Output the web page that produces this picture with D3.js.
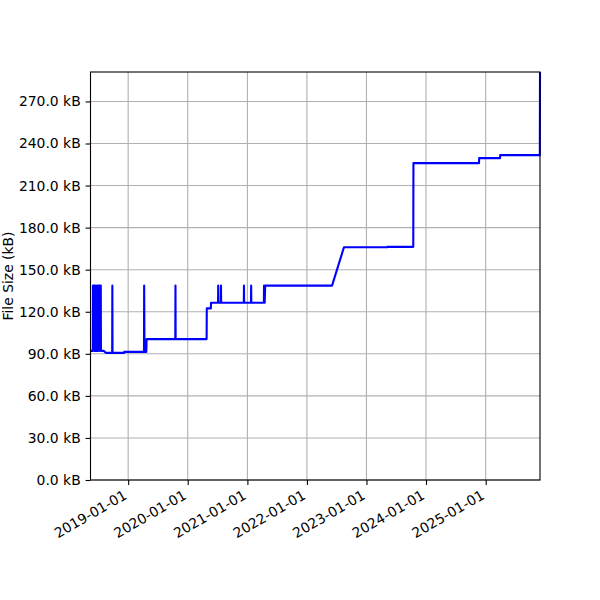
<!DOCTYPE html>
<html>
<head>
<meta charset="utf-8">
<script src="https://cdn.jsdelivr.net/npm/d3@7"></script>
<style>
  body { margin: 0; background: #fff; }
  text { font-family: "DejaVu Sans", sans-serif; }
</style>
</head>
<body>
<div id="svg"></div>
<script>
// dates of each recorded size
let dates = [
  '2018-05-15', '2018-05-29', '2018-05-30', '2018-06-05', '2018-06-06',
  '2018-06-08', '2018-06-14', '2018-06-16', '2018-06-22', '2018-06-24',
  '2018-06-30', '2018-07-02', '2018-07-08', '2018-07-09', '2018-07-12',
  '2018-07-17', '2018-07-18', '2018-08-05', '2018-08-16', '2018-09-25',
  '2018-09-26', '2018-09-27', '2018-12-07', '2018-12-08', '2019-04-08',
  '2019-04-09', '2019-04-11', '2019-04-22', '2019-04-24', '2019-10-17',
  '2019-10-18', '2019-10-19', '2020-04-26', '2020-04-27', '2020-05-22',
  '2020-05-23', '2020-07-05', '2020-07-06', '2020-07-07', '2020-07-22',
  '2020-07-23', '2020-07-24', '2020-12-10', '2020-12-11', '2020-12-12',
  '2021-01-23', '2021-01-24', '2021-01-25', '2021-04-12', '2021-04-13',
  '2021-04-17', '2021-04-20', '2022-06-04', '2022-08-16', '2023-05-07',
  '2023-05-08', '2023-10-15', '2023-10-16', '2024-11-21', '2024-11-22',
  '2025-03-30', '2025-03-31', '2025-11-29', '2025-11-30'
];
// file size in kB
let sizes = [
  92.1, 92.1, 138.6, 138.6, 92.1,
  138.6, 92.1, 138.6, 92.1, 138.6,
  92.1, 138.6, 138.6, 92.1, 138.6,
  138.6, 92.1, 92.1, 90.7, 90.7,
  138.6, 90.7, 90.7, 91.4, 91.4,
  138.6, 91.4, 91.4, 100.5, 100.5,
  138.6, 100.5, 100.5, 122.4, 122.4,
  126.4, 126.4, 138.6, 126.4, 126.4,
  138.6, 126.4, 126.4, 138.6, 126.4,
  126.4, 138.6, 126.4, 126.4, 138.6,
  126.4, 138.6, 138.6, 166.0, 166.0,
  166.3, 166.3, 226.0, 226.0, 229.6,
  229.6, 231.7, 231.7, 291.0
];
let yTicks = [0, 30, 60, 90, 120, 150, 180, 210, 240, 270];
let xTicks = ['2019-01-01', '2020-01-01', '2021-01-01', '2022-01-01',
              '2023-01-01', '2024-01-01', '2025-01-01'];

let w = 600;
let h = 600;
let mLeft = 90.5, mRight = 540, mTop = 72, mBottom = 480;

let parse = d3.timeParse('%Y-%m-%d');
let data = dates.map((d, i) => ({date: parse(d), size: sizes[i]}));

let svg = d3.select('#svg')
          .append('svg')
          .attr('width', w)
          .attr('height', h);

let xScale = d3.scaleTime()
  .domain(d3.extent(data, d => d.date))
  .range([mLeft, mRight]);

let yScale = d3.scaleLinear()
  .domain([0, d3.max(sizes)])
  .range([mBottom, mTop]);

// grid
svg.append('g')
   .selectAll('line')
   .data(xTicks)
   .enter()
   .append('line')
   .attr('x1', d => xScale(parse(d)))
   .attr('x2', d => xScale(parse(d)))
   .attr('y1', mTop)
   .attr('y2', mBottom)
   .style('stroke', '#b0b0b0')
   .style('stroke-width', 1.1);

svg.append('g')
   .selectAll('line')
   .data(yTicks)
   .enter()
   .append('line')
   .attr('x1', mLeft)
   .attr('x2', mRight)
   .attr('y1', d => yScale(d))
   .attr('y2', d => yScale(d))
   .style('stroke', '#b0b0b0')
   .style('stroke-width', 1.1);

// the line
let line = d3.line()
  .x(d => xScale(d.date))
  .y(d => yScale(d.size));

svg.append('path')
   .datum(data)
   .attr('d', line)
   .style('fill', 'none')
   .style('stroke', '#0000ff')
   .style('stroke-width', 2.1)
   .style('stroke-linejoin', 'round');

// frame
svg.append('rect')
   .attr('x', mLeft)
   .attr('y', mTop)
   .attr('width', mRight - mLeft)
   .attr('height', mBottom - mTop)
   .style('fill', 'none')
   .style('stroke', 'black')
   .style('stroke-width', 1.1);

// axes
let xAxis = d3.axisBottom(xScale)
  .tickValues(xTicks.map(parse))
  .tickFormat(d3.timeFormat('%Y-%m-%d'))
  .tickSizeInner(4.9)
  .tickSizeOuter(0)
  .tickPadding(4);

let gx = svg.append('g')
  .attr('transform', 'translate(0,' + mBottom + ')')
  .call(xAxis)
  .attr('id', 'x-axis');
gx.select('.domain').remove();
gx.selectAll('line').style('stroke', 'black').style('stroke-width', 1.1);
gx.selectAll('text')
  .style('font-size', '13.9px')
  .style('fill', 'black')
  .attr('text-anchor', 'end')
  .attr('dy', '0.75em')
  .attr('y', 9)
  .attr('transform', 'translate(-6,0) rotate(-30,0,9)');

let yAxis = d3.axisLeft(yScale)
  .tickValues(yTicks)
  .tickFormat(d => d3.format('.1f')(d) + ' kB')
  .tickSizeInner(4.9)
  .tickSizeOuter(0)
  .tickPadding(4.9);

let gy = svg.append('g')
  .attr('transform', 'translate(' + mLeft + ',0)')
  .call(yAxis)
  .attr('id', 'y-axis');
gy.select('.domain').remove();
gy.selectAll('line').style('stroke', 'black').style('stroke-width', 1.1);
gy.selectAll('text')
  .style('font-size', '13.9px')
  .style('fill', 'black');

svg.append('text')
   .text('File Size (kB)')
   .attr('transform', 'translate(13,' + ((mTop + mBottom) / 2) + ') rotate(-90)')
   .attr('text-anchor', 'middle')
   .style('font-size', '13.9px');
</script>
</body>
</html>
